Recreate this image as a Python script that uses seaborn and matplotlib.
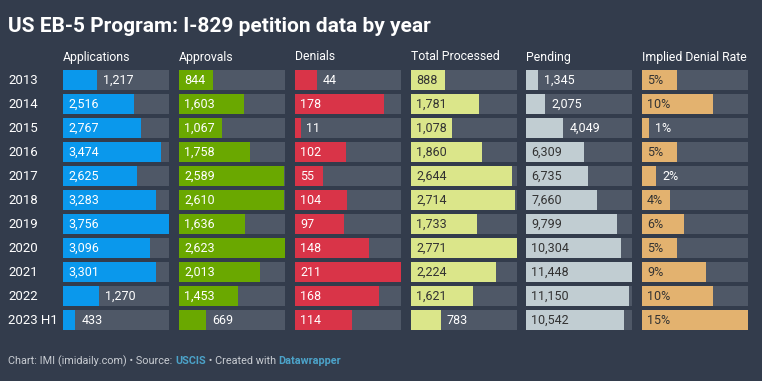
import matplotlib
matplotlib.use("Agg")
import matplotlib.pyplot as plt
import matplotlib.transforms as mtransforms
from matplotlib.font_manager import FontProperties
from matplotlib.textpath import TextPath
import pandas as pd
import seaborn as sns

years = ["2013", "2014", "2015", "2016", "2017", "2018", "2019", "2020", "2021", "2022", "2023 H1"]
applications = [1217, 2516, 2767, 3474, 2625, 3283, 3756, 3096, 3301, 1270, 433]
approvals = [844, 1603, 1067, 1758, 2589, 2610, 1636, 2623, 2013, 1453, 669]
denials = [44, 178, 11, 102, 55, 104, 97, 148, 211, 168, 114]
total_processed = [888, 1781, 1078, 1860, 2644, 2714, 1733, 2771, 2224, 1621, 783]
pending = [1345, 2075, 4049, 6309, 6735, 7660, 9799, 10304, 11448, 11150, 10542]
denial_rate = [5, 10, 1, 5, 2, 4, 6, 5, 9, 10, 15]

columns = ["Applications", "Approvals", "Denials", "Total Processed", "Pending", "Implied Denial Rate"]
series = [applications, approvals, denials, total_processed, pending, denial_rate]
colors = ["#0a98ec", "#6aa800", "#d93448", "#dbe68a", "#c1cdd2", "#e3b26f"]
label_dark = [False, False, False, True, True, True]

BG = "#333c4c"
TRACK = "#4f5867"
W, H = 762, 381
VAL_SIZE = 9

sns.set_theme(style="white")
plt.rcParams["font.family"] = ["Roboto", "DejaVu Sans"]

fig = plt.figure(figsize=(W / 100, H / 100), dpi=100)
fig.patch.set_facecolor(BG)

col_left = [63, 179, 295, 411, 526, 642]
col_w = 106
top_px, bot_px = 68, 332

fig.text(8 / W, 1 - 27 / H, "US EB-5 Program: I-829 petition data by year",
         color="white", fontsize=15, fontweight="bold", va="center", ha="left")

renderer = fig.canvas.get_renderer()
val_font = FontProperties(family="Roboto")


def ink_width(s):
    # glyph outline width in pixels
    return TextPath((0, 0), s, size=VAL_SIZE * 100 / 72, prop=val_font).get_extents().width


for i, (name, vals) in enumerate(zip(columns, series)):
    ax = fig.add_axes([col_left[i] / W, 1 - bot_px / H, col_w / W, (bot_px - top_px) / H])
    ax.set_facecolor("none")
    vmax = max(vals)
    df = pd.DataFrame({"year": years, "value": vals, "track": [vmax] * len(vals)})
    sns.barplot(data=df, y="year", x="track", color=TRACK, width=20 / 24,
                saturation=1, linewidth=0, ax=ax, orient="h")
    sns.barplot(data=df, y="year", x="value", color=colors[i], width=20 / 24,
                saturation=1, linewidth=0, ax=ax, orient="h")
    ax.set_xlim(0, vmax)
    ax.set_ylim(len(years) - 0.5, -0.5)
    ax.axis("off")

    fig.text(col_left[i] / W, 1 - 57 / H, name, color="white", fontsize=8.8,
             va="center", ha="left")

    for j, v in enumerate(vals):
        txt = f"{v}%" if i == 5 else f"{v:,}"
        bar_px = v / vmax * col_w
        if ink_width(txt) + 11.3 <= bar_px:
            ax.annotate(txt, (0, j), xytext=(3.6, 0), textcoords="offset points",
                        va="center", ha="left", fontsize=VAL_SIZE,
                        color="#333333" if label_dark[i] else "white")
        else:
            ax.annotate(txt, (v, j), xytext=(4.3, 0), textcoords="offset points",
                        va="center", ha="left", fontsize=VAL_SIZE, color="white")

    if i == 0:
        tr = mtransforms.blended_transform_factory(fig.transFigure, ax.transData)
        for j, y in enumerate(years):
            ax.text(8 / W, j, y, transform=tr, color="white", fontsize=9.5,
                    va="center", ha="left")

foot = [("Chart: IMI (imidaily.com) \u2022 Source: ", "#c8ccd2"), ("USCIS", "#4ca3c9"),
        (" \u2022 Created with ", "#c8ccd2"), ("Datawrapper", "#4ca3c9")]
x = 8
for s, c in foot:
    t = fig.text(x / W, 1 - 361 / H, s, color=c, fontsize=7.8, va="center", ha="left",
                 fontweight="bold" if c == "#4ca3c9" else "normal")
    x += t.get_window_extent(renderer).width

fig.savefig("out.png", dpi=100, facecolor=BG)
